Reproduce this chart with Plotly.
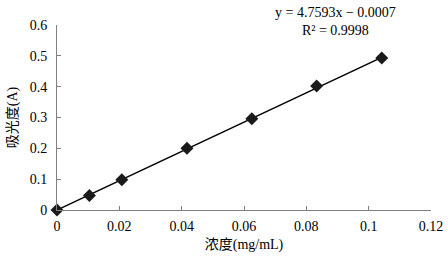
import plotly.graph_objects as go

conc = [0, 0.0104, 0.0208, 0.0417, 0.0625, 0.0833, 0.1042]
absorb = [0, 0.047, 0.098, 0.200, 0.296, 0.402, 0.493]
slope = 4.7593
intercept = -0.0007
x_ticks = [0, 0.02, 0.04, 0.06, 0.08, 0.1, 0.12]
x_tick_text = ["0", "0.02", "0.04", "0.06", "0.08", "0.1", "0.12"]
y_ticks = [0, 0.1, 0.2, 0.3, 0.4, 0.5, 0.6]
y_tick_text = ["0", "0.1", "0.2", "0.3", "0.4", "0.5", "0.6"]

fit_x = [conc[0], conc[-1]]
fit_y = [max(0, slope * v + intercept) for v in fit_x]

font = "'Liberation Serif', 'Times New Roman', 'Noto Sans CJK SC', serif"

fig = go.Figure()
fig.add_trace(go.Scatter(x=fit_x, y=fit_y, mode="lines",
                         line=dict(color="black", width=1.5), showlegend=False,
                         cliponaxis=False))
fig.add_trace(go.Scatter(x=conc, y=absorb, mode="markers",
                         marker=dict(symbol="diamond", size=10, color="#1a1a1a"),
                         showlegend=False, cliponaxis=False))

axis_common = dict(showgrid=False, zeroline=False, showline=True, linecolor="#808080",
                   linewidth=1, ticks="inside", ticklen=4, tickcolor="#808080",
                   automargin=False,
                   tickfont=dict(family=font, size=14, color="black"))

fig.update_layout(
    width=448, height=258,
    margin=dict(l=57, r=17, t=25, b=48),
    paper_bgcolor="white", plot_bgcolor="white",
    xaxis=dict(range=[0, 0.12], tickvals=x_ticks, ticktext=x_tick_text, ticklabelstandoff=3,
               title=dict(text="浓度(mg/mL)", font=dict(family=font, size=14, color="black"), standoff=6),
               **axis_common),
    yaxis=dict(range=[0, 0.6], tickvals=y_ticks, ticktext=y_tick_text, ticklabelstandoff=6,
               title=dict(text="吸光度(A)", font=dict(family=font, size=14, color="black"), standoff=8),
               **axis_common),
    annotations=[
        dict(text="y = 4.7593x − 0.0007<br>R² = 0.9998",
             x=(335 - 57) / (448 - 57 - 17), y=1 + (25 - 3) / (258 - 25 - 48),
             xref="paper", yref="paper",
             showarrow=False, font=dict(family=font, size=14, color="black"), align="center",
             xanchor="center", yanchor="top"),
    ],
)
fig.write_html("out.html", config={"displayModeBar": False},
               post_script="document.body.style.margin='0';")
